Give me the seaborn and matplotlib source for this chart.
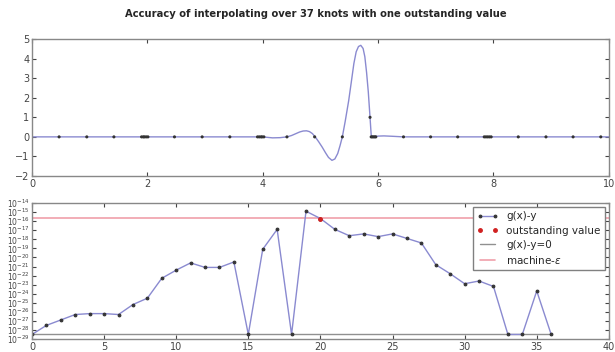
import numpy as np
import pandas as pd
import matplotlib
matplotlib.use("Agg")
import matplotlib.pyplot as plt
import seaborn as sns

# top panel: knots (x, y) and the interpolant
knot_x = [0.47, 0.95, 1.42, 1.90, 1.93, 1.95, 1.98, 2.01, 2.47, 2.95, 3.43,
          3.91, 3.94, 3.97, 3.99, 4.02, 4.42, 4.90, 5.38, 5.86, 5.88, 5.90,
          5.92, 5.94, 5.96, 6.44, 6.91, 7.38, 7.84, 7.87, 7.90, 7.93, 7.96,
          8.43, 8.91, 9.38, 9.86]
knot_y = [0.0] * 19 + [1.0] + [0.0] * 17

curve_x = [0.0, 4.0, 4.10, 4.17, 4.30, 4.42, 4.50, 4.57, 4.64, 4.70, 4.76,
           4.81, 4.86, 4.91, 4.97, 5.03, 5.09, 5.14, 5.20, 5.25, 5.30, 5.34,
           5.38, 5.43, 5.49, 5.54, 5.58, 5.62, 5.66, 5.70, 5.74, 5.77, 5.80,
           5.83, 5.86, 5.88, 5.90, 6.00, 6.10, 6.25, 6.44, 10.0]
curve_y = [0.0, 0.0, -0.03, -0.05, -0.04, 0.0, 0.07, 0.16, 0.25, 0.30, 0.31,
           0.27, 0.17, 0.0, -0.25, -0.52, -0.82, -1.05, -1.20, -1.13, -0.85,
           -0.45, 0.0, 0.80, 1.85, 2.90, 3.75, 4.35, 4.62, 4.68, 4.52, 4.10,
           3.30, 2.30, 1.00, 0.10, 0.0, 0.04, 0.05, 0.03, 0.0, 0.0]

# bottom panel: log10 |g(x)-y| per knot index (zeros drawn on the floor)
floor_exp = -28.5
err_exp = [floor_exp, -27.5, -26.9, -26.3, -26.2, -26.2, -26.3, -25.2, -24.5,
           -22.3, -21.4, -20.6, -21.1, -21.1, -20.5, floor_exp, -19.1, -16.9,
           floor_exp, -14.9, -15.7, -16.9, -17.6, -17.4, -17.7, -17.4, -17.9,
           -18.4, -20.8, -21.8, -22.9, -22.6, -23.2, floor_exp, floor_exp,
           -23.7, floor_exp]
outstanding_idx = 20
machine_eps = 2.220446e-16

err = pd.DataFrame({"idx": np.arange(len(err_exp)),
                    "err": [10.0 ** e for e in err_exp]})

sns.set_style("ticks")
plt.rcParams["font.family"] = ["DejaVu Sans"]
plt.rcParams["xtick.direction"] = "in"
plt.rcParams["ytick.direction"] = "in"

fig = plt.figure(figsize=(6.15, 3.52), dpi=100)
ax1 = fig.add_axes([0.052, 0.50, 0.938, 0.389])
ax2 = fig.add_axes([0.052, 0.037, 0.938, 0.386])

line_col = "#8a8ad0"

# -------- top panel --------
sns.lineplot(x=curve_x, y=curve_y, ax=ax1, color=line_col, lw=1.0,
             sort=False, estimator=None)
sns.scatterplot(x=knot_x, y=knot_y, ax=ax1, color="#333333", s=5,
                edgecolor="none", zorder=3)
ax1.set_xlim(0, 10)
ax1.set_ylim(-2, 5)
ax1.set_xticks([0, 2, 4, 6, 8, 10])
ax1.set_yticks(range(-2, 6))

# -------- bottom panel --------
ax2.set_yscale("log")
sns.lineplot(data=err, x="idx", y="err", ax=ax2, color=line_col, lw=1.0,
             marker=".", markersize=4, markerfacecolor="#333333",
             markeredgecolor="#333333", label="g(x)-y", estimator=None)
ax2.plot([outstanding_idx], [10.0 ** err_exp[outstanding_idx]], ls="none",
         marker="o", ms=2.5, color="#d02020", zorder=4,
         label="outstanding value")
ax2.plot([0, len(err_exp) - 1], [10.0 ** floor_exp] * 2, color="#909090",
         lw=1.0, label="g(x)-y=0", zorder=1)
ax2.axhline(machine_eps, color="#f0a0aa", lw=1.2, label=r"machine-$\epsilon$",
            zorder=1)
ax2.set_xlim(0, 40)
ax2.set_ylim(1e-29, 1e-14)
ax2.set_xticks(range(0, 41, 5))
ax2.set_yticks([10.0 ** k for k in range(-29, -13)])
ax2.set_yticklabels([r"$10^{%d}$" % k for k in range(-29, -13)])
ax2.minorticks_off()
ax2.set_xlabel("")
ax2.set_ylabel("")
leg = ax2.legend(loc="upper right", fontsize=7.5, numpoints=2,
                 fancybox=False, framealpha=1, borderaxespad=0.4,
                 handlelength=2.0, labelspacing=0.4)
leg.get_frame().set_edgecolor("#808080")

for ax in (ax1, ax2):
    ax.tick_params(labelsize=7, colors="#444444", length=3, top=True,
                   right=True, pad=2)
    for sp in ax.spines.values():
        sp.set_visible(True)
        sp.set_color("#888888")
        sp.set_linewidth(1.0)
ax2.tick_params(axis="y", labelsize=5.5, pad=1.5)

fig.text(0.514, 0.96,
         "Accuracy of interpolating over 37 knots with one outstanding value",
         ha="center", va="center", fontsize=7.2, fontweight="bold")

fig.savefig("out.png", dpi=100)
